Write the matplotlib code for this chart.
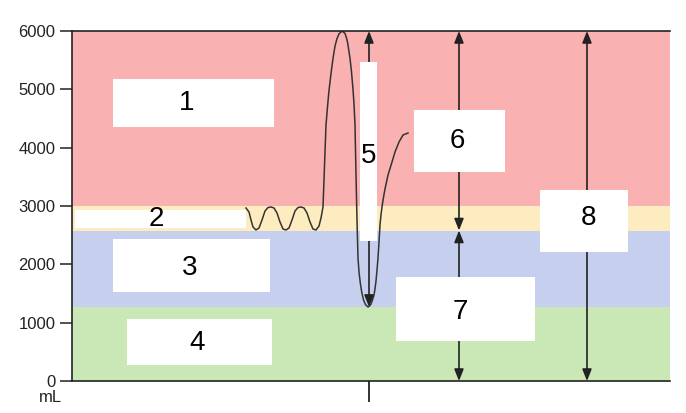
import matplotlib.pyplot as plt
from matplotlib.patches import Rectangle

plt.rcParams['font.family'] = ['Liberation Sans', 'DejaVu Sans']

# time axis is arbitrary (one unit ~ one pixel of the original plot)
t = [174, 177, 179, 181, 184, 187, 190, 193, 196, 199, 202, 205, 208, 211,
     214, 217, 220, 223, 226, 229, 232, 235, 238, 241, 244, 247, 249, 251,
     252, 253, 254, 255.5, 257, 259, 261, 263, 265, 267, 270, 273, 275,
     276, 278, 279.5, 281, 282, 283, 283.8, 284.7, 285.3, 286, 287, 288.3,
     289.7, 291.5, 293.5, 296, 297.5, 299, 300.5, 302, 303, 304, 305, 306,
     307, 308, 309, 310, 311.5, 313, 316, 320, 323, 327, 331, 336]
volume = [2966, 2897, 2760, 2640, 2589, 2623, 2760, 2914, 2974, 2983, 2966,
          2880, 2726, 2606, 2589, 2623, 2760, 2914, 2974, 2983, 2966, 2880,
          2726, 2606, 2589, 2657, 2794, 2983, 3450, 3920, 4389, 4700, 4980,
          5270, 5530, 5740, 5870, 5950, 6000, 5960, 5850, 5760, 5530, 5300,
          5000, 4750, 4389, 3700, 2983, 2550, 2109, 1870, 1680, 1526, 1390,
          1310, 1269, 1285, 1320, 1390, 1474, 1580, 1714, 1900, 2109, 2380,
          2674, 2850, 2983, 3150, 3291, 3531, 3754, 3926, 4097, 4217, 4251]

# compartment limits (mL)
tlc = 6000
frc_top = 3000
frc_low = 2580
rv = 1270
bands = [(frc_top, tlc, '#f9b1b1'), (frc_low, frc_top, '#fdecbf'),
         (rv, frc_low, '#c6d0ee'), (0, rv, '#cae8b6')]

# (x, volume-from, volume-to) for the arrows
arrows = [(297, tlc, rv), (387, tlc, frc_low), (387, frc_low, 0), (515, tlc, 0)]

labels = ['1', '2', '3', '4', '5', '6', '7', '8']

fig = plt.figure(figsize=(6.86, 4.13), dpi=100)
ax = fig.add_axes([72 / 686, 32 / 413, 598 / 686, 350 / 413])
ax.set_xlim(0, 598)
ax.set_ylim(0, 6000)


def px(x, y):
    # pixel position in the picture -> data coordinates
    return x - 72, (381 - y) * 6000 / 350


for lo, hi, c in bands:
    ax.axhspan(lo, hi, color=c, zorder=0, lw=0)

ax.plot(t, volume, color='#333333', lw=1.1, zorder=2)

for x, a, b in arrows:
    ax.annotate('', xy=(x, b), xytext=(x, a),
                arrowprops=dict(arrowstyle='<|-|>,head_length=0.7,head_width=0.28',
                                color='#222222', lw=1.2, shrinkA=0, shrinkB=0),
                zorder=3)

boxes = [(113, 79, 274, 127), (75, 210, 246, 228), (113, 239, 270, 292),
         (127, 319, 272, 365), (360, 62, 377, 241), (414, 110, 505, 172),
         (396, 277, 535, 341), (540, 190, 628, 252)]
label_pos = [(187, 103), (156, 219), (190, 268), (197, 343), (369, 156),
             (457, 141), (460, 312), (588, 218)]

for (x0, y0, x1, y1), lab, (lx, ly) in zip(boxes, labels, label_pos):
    bx0, by1 = px(x0, y0)
    bx1, by0 = px(x1, y1)
    ax.add_patch(Rectangle((bx0, by0), bx1 - bx0, by1 - by0, color='white',
                           lw=0, zorder=4))
    tx, ty = px(lx, ly)
    ax.text(tx, ty, lab, fontsize=20, ha='center', va='center', zorder=5)

ax.spines['right'].set_visible(False)
for s in ['left', 'top', 'bottom']:
    ax.spines[s].set_linewidth(1.2)
    ax.spines[s].set_color('#222222')

ax.set_yticks([0, 1000, 2000, 3000, 4000, 5000, 6000])
ax.tick_params(axis='y', length=8.5, width=1.1, pad=3.5, labelsize=12,
               colors='#222222')
ax.set_xticks([297])
ax.set_xticklabels([''])
ax.tick_params(axis='x', length=15, width=1.3, colors='#222222')

fig.text(50 / 686, 1 - 398 / 413, 'mL', fontsize=12, ha='center', va='center',
         color='#222222')

plt.savefig('out.png')
